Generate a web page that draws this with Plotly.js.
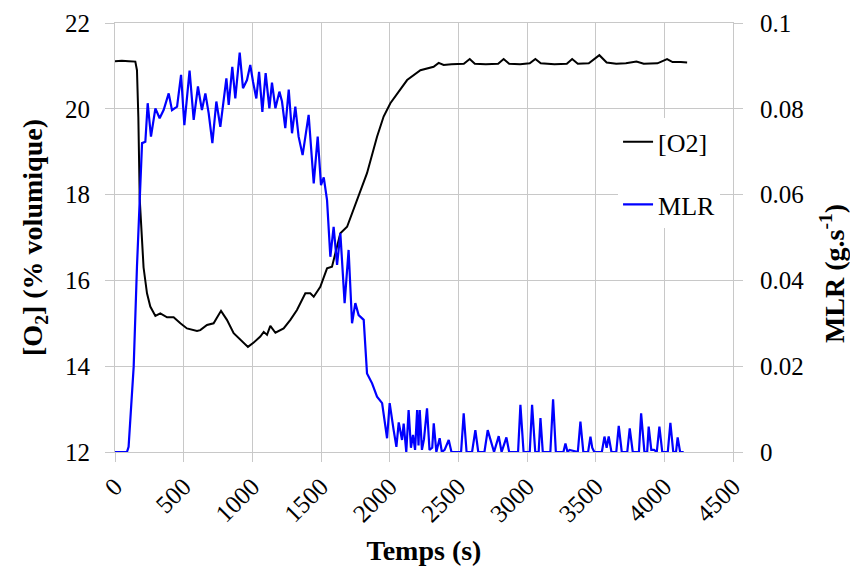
<!DOCTYPE html>
<html>
<head>
<meta charset="utf-8">
<script src="https://cdn.plot.ly/plotly-3.0.1.min.js"></script>
<style>html,body{margin:0;padding:0;background:#fff;}#chart{width:850px;height:570px;}</style>
</head>
<body>
<div id="chart"></div>
<script>
var o2Time = [0, 50, 100, 148, 160, 170, 180, 195, 208, 233,
  257, 294, 330, 379, 427, 476, 524, 597, 621, 670,
  718, 772, 815, 864, 913, 968, 1010, 1058, 1083, 1107,
  1131, 1168, 1228, 1277, 1325, 1386, 1422, 1447, 1495, 1544,
  1580, 1641, 1690, 1762, 1835, 1908, 1956, 2005, 2078, 2127,
  2224, 2320, 2357, 2393, 2450, 2540, 2583, 2620, 2700, 2790,
  2830, 2870, 2950, 3020, 3061, 3100, 3200, 3290, 3329, 3370,
  3450, 3527, 3580, 3650, 3720, 3797, 3850, 3950, 4020, 4060,
  4120, 4166];
var o2Value = [21.11, 21.12, 21.11, 21.10, 20.90, 19.80, 17.90, 16.90, 16.30, 15.70,
  15.39, 15.17, 15.23, 15.14, 15.14, 15.00, 14.88, 14.82, 14.84, 14.96,
  15.00, 15.29, 15.08, 14.77, 14.61, 14.45, 14.55, 14.69, 14.80, 14.73,
  14.94, 14.78, 14.88, 15.08, 15.31, 15.70, 15.70, 15.62, 15.85, 16.28,
  16.32, 17.10, 17.25, 17.87, 18.50, 19.35, 19.82, 20.13, 20.44, 20.67,
  20.90, 20.98, 21.07, 21.02, 21.04, 21.05, 21.16, 21.05, 21.04, 21.05,
  21.16, 21.05, 21.04, 21.06, 21.16, 21.06, 21.04, 21.05, 21.16, 21.05,
  21.06, 21.25, 21.08, 21.05, 21.06, 21.10, 21.05, 21.06, 21.16, 21.09,
  21.09, 21.08];

var mlrTime = [0, 87, 99, 136, 160, 197, 221, 238, 262, 294,
  325, 354, 391, 415, 452, 481, 505, 543, 573, 604,
  633, 658, 682, 709, 738, 767, 811, 828, 854, 876,
  908, 932, 961, 985, 1005, 1029, 1049, 1073, 1097, 1124,
  1143, 1168, 1197, 1216, 1240, 1265, 1289, 1313, 1337, 1366,
  1410, 1447, 1476, 1500, 1520, 1544, 1568, 1592, 1617, 1641,
  1672, 1701, 1726, 1750, 1774, 1811, 1835, 1872, 1908, 1945,
  1981, 2000, 2029, 2049, 2066, 2090, 2102, 2121, 2138, 2155,
  2170, 2185, 2200, 2210, 2219, 2235, 2250, 2272, 2290, 2310,
  2321, 2340, 2364, 2380, 2400, 2430, 2450, 2470, 2520, 2539,
  2560, 2600, 2624, 2645, 2690, 2714, 2735, 2760, 2794, 2815,
  2850, 2870, 2935, 2952, 2975, 3020, 3037, 3060, 3085, 3098,
  3115, 3170, 3190, 3210, 3265, 3280, 3295, 3310, 3370, 3389,
  3410, 3445, 3462, 3475, 3490, 3545, 3564, 3580, 3595, 3615,
  3650, 3668, 3690, 3730, 3748, 3770, 3815, 3831, 3855, 3875,
  3886, 3905, 3925, 3945, 3964, 3985, 4025, 4044, 4065, 4085,
  4097, 4115, 4141];
var mlrValue = [0, 0, 0.0012, 0.0199, 0.0432, 0.0720, 0.0723, 0.0813, 0.0735, 0.0801,
  0.0778, 0.0797, 0.0836, 0.0797, 0.0805, 0.0879, 0.0762, 0.0889, 0.0774, 0.0852,
  0.0797, 0.0836, 0.0790, 0.0720, 0.0817, 0.0758, 0.0871, 0.0809, 0.0898, 0.0824,
  0.0931, 0.0848, 0.0867, 0.0902, 0.0863, 0.0824, 0.0886, 0.0793, 0.0883, 0.0801,
  0.0861, 0.0801, 0.0840, 0.0817, 0.0755, 0.0845, 0.0743, 0.0805, 0.0735, 0.0692,
  0.0786, 0.0626, 0.0735, 0.0622, 0.0640, 0.0587, 0.0455, 0.0525, 0.0436, 0.0510,
  0.0347, 0.0471, 0.0300, 0.0347, 0.0319, 0.0308, 0.0183, 0.0160, 0.0129, 0.0114,
  0.0032, 0.0114, 0.0051, 0.0012, 0.0069, 0.0028, 0.0066, 0, 0.0098, 0.0010,
  0.0040, 0.0005, 0.0098, 0.0015, 0.0098, 0.0005, 0.0030, 0.0102, 0.0005, 0.0010,
  0.0067, 0, 0.0032, 0, 0.0005, 0.0028, 0, 0, 0, 0.0090,
  0, 0, 0.0051, 0, 0, 0.0051, 0.0030, 0, 0.0037, 0,
  0.0034, 0, 0, 0.0110, 0, 0, 0.0110, 0, 0, 0.0079,
  0, 0, 0.0123, 0, 0, 0.0020, 0, 0.0005, 0, 0.0071,
  0, 0, 0.0036, 0.0010, 0, 0, 0.0036, 0.0010, 0.0036, 0,
  0, 0.0061, 0, 0, 0.0055, 0, 0, 0.0090, 0, 0,
  0.0059, 0.0005, 0.0005, 0, 0.0059, 0, 0, 0.0068, 0, 0,
  0.0034, 0, 0];

var seriesNames = ['[O2]', 'MLR'];
var xTitle = 'Temps (s)';
var yTitle = '[O<sub>2</sub>] (% volumique)';
var y2Title = 'MLR (g.s<sup>-1</sup>)';

var serif = 'Liberation Serif';
var grid = '#c8c8c8';

function regular() { return {family: serif, size: 25, color: '#000000', weight: 400, style: 'normal'}; }
function bold() { return {family: serif, size: 28, color: '#000000', weight: 700, style: 'normal'}; }

var traces = [
  {x: o2Time, y: o2Value, name: seriesNames[0], type: 'scatter', mode: 'lines',
   line: {color: '#000000', width: 2}, legendgroup: 'a', yaxis: 'y'},
  {x: mlrTime, y: mlrValue, name: seriesNames[1], type: 'scatter', mode: 'lines',
   line: {color: '#0000ff', width: 2.2}, legendgroup: 'b', yaxis: 'y2'}
];

var layout = {
  width: 850, height: 570,
  margin: {l: 115, r: 117, t: 23, b: 118},
  paper_bgcolor: '#ffffff', plot_bgcolor: '#ffffff',
  font: regular(),
  showlegend: true,
  legend: {x: 0.814, y: 0.778, xanchor: 'left', yanchor: 'top', bgcolor: '#ffffff',
           font: {family: serif, size: 26, color: '#000000', weight: 400, style: 'normal'},
           tracegroupgap: 26, traceorder: 'grouped'},
  xaxis: {range: [0, 4500], dtick: 500, tick0: 0, tickangle: -45,
          showgrid: true, gridcolor: grid, gridwidth: 1, zeroline: false,
          showline: true, linecolor: grid, mirror: true,
          ticks: 'outside', ticklen: 9, tickcolor: grid,
          title: {text: xTitle, standoff: 14, font: bold()}},
  yaxis: {range: [12, 22], dtick: 2, tick0: 12,
          showgrid: true, gridcolor: grid, gridwidth: 1, zeroline: false,
          showline: true, linecolor: grid, mirror: true,
          ticks: 'outside', ticklen: 9, tickcolor: grid, ticklabelstandoff: 10,
          title: {text: yTitle, standoff: 14, font: bold()}},
  yaxis2: {range: [0, 0.1], dtick: 0.02, tick0: 0, overlaying: 'y', side: 'right',
           showgrid: false, zeroline: false, showline: false,
           ticks: 'outside', ticklen: 9, tickcolor: grid, ticklabelstandoff: 12},
  annotations: [
    {text: y2Title, xref: 'paper', yref: 'paper', x: 1.162, y: 0.415,
     xanchor: 'center', yanchor: 'middle', textangle: -90, showarrow: false,
     font: bold()}
  ]
};

Plotly.newPlot('chart', traces, layout, {displayModeBar: false, staticPlot: true});
</script>
</body>
</html>
